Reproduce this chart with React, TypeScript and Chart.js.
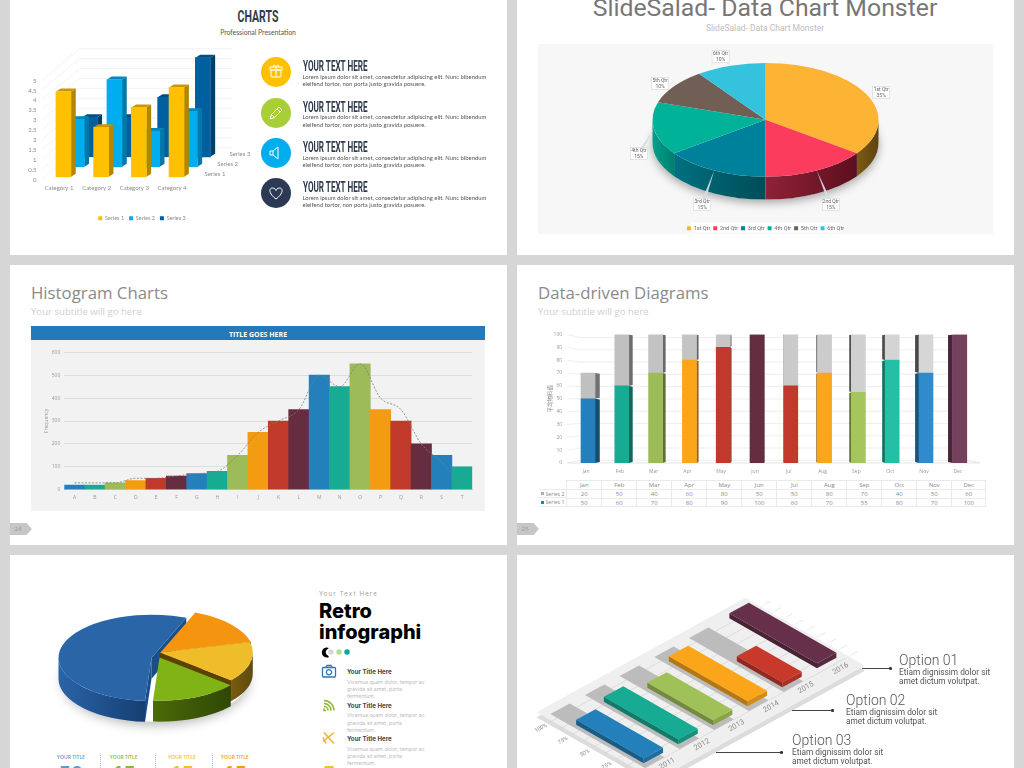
import React, { useEffect, useRef } from "react";
import { Chart, registerables } from "chart.js";

Chart.register(...registerables);

/* ---------- data ---------- */
const barCategories = ["Category 1", "Category 2", "Category 3", "Category 4"];
const barSeries1 = [4.3, 2.5, 3.5, 4.5];
const barSeries2 = [2.4, 4.4, 1.8, 2.8];
const barSeries3 = [2, 2, 3, 5];

const qtrLabels = ["1st Qtr", "2nd Qtr", "3rd Qtr", "4th Qtr", "5th Qtr", "6th Qtr"];
const qtrValues = [35, 15, 15, 15, 10, 10];

const histLabels = ["A", "B", "C", "D", "E", "F", "G", "H", "I", "J", "K", "L", "M", "N", "O", "P", "Q", "R", "S", "T"];
const histValues = [20, 20, 30, 40, 50, 60, 70, 80, 150, 250, 300, 350, 500, 450, 550, 350, 300, 200, 150, 100];
const histCurve = [30, 30, 30, 50, 50, 60, 70, 80, 150, 250, 300, 350, 500, 450, 550, 400, 350, 200, 120, 10];

const months = ["Jan", "Feb", "Mar", "Apr", "May", "Jun", "Jul", "Aug", "Sep", "Oct", "Nov", "Dec"];
const monthSeries1 = [50, 60, 70, 80, 90, 100, 60, 70, 55, 80, 70, 100];
const monthSeries2 = [20, 50, 40, 60, 80, 50, 50, 80, 70, 40, 50, 60];

const retroLabels = ["Blue", "Orange", "Yellow", "Green"];
const retroValues = [55, 15, 15, 15];
const retroStats = ["50", "15", "15", "15"];

const isoYears = ["2011", "2012", "2013", "2014", "2015", "2016"];
const isoValues = [77, 85, 75, 90, 52, 100];
const isoTrack = [108, 108, 108, 108, 108, 0];
const isoGridValues = [0, 12.5, 25, 37.5, 50, 62.5, 75, 87.5, 100];
const isoValueLabels = [25, 50, 75, 100];

/* ---------- palette ---------- */
const BLUE = "#2380ba", TEAL = "#17ab93", GREEN = "#9dbb58", ORANGE = "#f39c12", RED = "#c0392b", PURPLE = "#662d40";
const histPalette = [BLUE, TEAL, GREEN, ORANGE, RED, PURPLE];
const monthColors = [BLUE, TEAL, GREEN, "#fba51b", RED, PURPLE, RED, "#fba51b", "#a5c65c", "#25bfa6", "#2f8bcb", "#74405c"];
const monthGrays = ["#c0c0c0", "#c0c0c0", "#c2c2c2", "#c4c4c4", "#c6c6c6", "#c8c8c8", "#cacaca", "#cccccc", "#d0d0d0", "#d4d4d4", "#d6d6d6", "#d8d8d8"];
const isoColors = ["#2380ba", "#17ab93", "#a0c157", "#fba51b", "#c8392c", "#66304a"];

function shade(hex: string, f: number) {
  const n = parseInt(hex.slice(1), 16);
  const r = Math.round(((n >> 16) & 255) * f), g = Math.round(((n >> 8) & 255) * f), b = Math.round((n & 255) * f);
  return `rgb(${r},${g},${b})`;
}

/* ---------- scale helpers: fixed axis boxes so the plot area is exact ---------- */
const fixY = (w: number) => (s: any) => { s.width = w; s.paddingTop = 0; s.paddingBottom = 0; };
const fixX = (h: number) => (s: any) => { s.height = h; s.paddingLeft = 0; s.paddingRight = 0; };

/* ---------- plugin: 3D column chart with series receding in depth ---------- */
const seriesDepth = [[0, 0], [13.3, -10], [26.3, -20]];
const depthColors = [
  { side: "#b28600", top: "#c99700" },
  { side: "#0079a8", top: "#0088bd" },
  { side: "#003f69", top: "#004d80" },
];
const columns3D = {
  id: "columns3D",
  beforeDatasetsDraw(chart: any) {
    const { ctx, chartArea: a, scales } = chart;
    ctx.save();
    ctx.strokeStyle = "#ececec";
    ctx.lineWidth = 0.7;
    scales.y.ticks.forEach((t: any) => {
      const y = scales.y.getPixelForValue(t.value);
      ctx.beginPath();
      ctx.moveTo(a.left - 2, y + 2);
      ctx.lineTo(a.left + 35, y - 29);
      ctx.lineTo(a.right + 36, y - 29);
      ctx.stroke();
    });
    ctx.fillStyle = "#8c8c8c";
    ctx.font = "6px Lato";
    ctx.textAlign = "center";
    ctx.textBaseline = "middle";
    chart.data.datasets.forEach((d: any, i: number) => {
      ctx.fillText(d.label, a.right + 19.6 + seriesDepth[i][0] * 0.95, a.bottom - 2.3 + seriesDepth[i][1]);
    });
    ctx.restore();
  },
  beforeDatasetDraw(chart: any, args: any) {
    const { ctx } = chart;
    const [ox, oy] = seriesDepth[args.index];
    const dx = 4.8, dy = -3;
    ctx.save();
    ctx.translate(ox, oy);
    args.meta.data.forEach((el: any) => {
      const l = el.x - el.width / 2, r = el.x + el.width / 2;
      ctx.fillStyle = depthColors[args.index].side;
      ctx.beginPath();
      ctx.moveTo(r, el.y); ctx.lineTo(r + dx, el.y + dy); ctx.lineTo(r + dx, el.base + dy); ctx.lineTo(r, el.base);
      ctx.closePath(); ctx.fill();
      ctx.fillStyle = depthColors[args.index].top;
      ctx.beginPath();
      ctx.moveTo(l, el.y); ctx.lineTo(l + dx, el.y + dy); ctx.lineTo(r + dx, el.y + dy); ctx.lineTo(r, el.y);
      ctx.closePath(); ctx.fill();
    });
  },
  afterDatasetDraw(chart: any) { chart.ctx.restore(); },
};

/* ---------- plugin factory: squashed 3D pie, drawn slice by slice ---------- */
function makePie3D(cfg: any) {
  const { squash: k, depth, shifts, walls, radialWall, shadow } = cfg;
  return {
    id: "pie3D",
    beforeDatasetsDraw(chart: any) {
      const { ctx } = chart;
      const arcs = chart.getDatasetMeta(0).data;
      const r0 = arcs[0].outerRadius;
      ctx.save();
      ctx.shadowColor = shadow.color;
      ctx.shadowBlur = shadow.blur;
      ctx.shadowOffsetY = shadow.dy;
      ctx.fillStyle = "#fff";
      ctx.beginPath();
      const s0 = shifts[0], s2 = shifts[shifts.length - 1];
      ctx.ellipse(arcs[0].x + (s0[0] + s2[0]) / 2, arcs[0].y + (s0[1] + s2[1]) / 2 + depth, r0, r0 * k, 0, 0, Math.PI * 2);
      ctx.fill();
      ctx.restore();
      arcs.forEach((arc: any, i: number) => {
        const cx = arc.x + shifts[i][0], cy = arc.y + shifts[i][1], r = arc.outerRadius;
        const pt = (ang: number, rr = r) => [cx + rr * Math.cos(ang), cy + rr * k * Math.sin(ang)];
        const s = arc.startAngle, e = arc.endAngle;
        if (radialWall) {
          [[s, true], [e, false]].forEach(([ang, isStart]: any) => {
            const facing = isStart ? -Math.cos(ang) : Math.cos(ang);
            if (facing <= 0) return;
            const p = pt(ang);
            ctx.fillStyle = radialWall[i];
            ctx.beginPath();
            ctx.moveTo(cx, cy); ctx.lineTo(p[0], p[1]); ctx.lineTo(p[0], p[1] + depth); ctx.lineTo(cx, cy + depth);
            ctx.closePath(); ctx.fill();
          });
        }
        for (const base of [-2 * Math.PI, 0, 2 * Math.PI]) {
          const a0 = Math.max(s, base), a1 = Math.min(e, base + Math.PI);
          if (a1 <= a0) continue;
          const p0 = pt(a0), p1 = pt(a1);
          const g = ctx.createLinearGradient(Math.min(p0[0], p1[0]), 0, Math.max(p0[0], p1[0]), 0);
          const c = walls[i];
          const reversed = p1[0] > p0[0];
          g.addColorStop(0, reversed ? c[1] : c[0]);
          g.addColorStop(1, reversed ? c[0] : c[1]);
          ctx.fillStyle = g;
          ctx.beginPath();
          ctx.ellipse(cx, cy, r, r * k, 0, a0, a1);
          ctx.ellipse(cx, cy + depth, r, r * k, 0, a1, a0, true);
          ctx.closePath();
          ctx.fill();
        }
        ctx.save();
        ctx.translate(cx, cy);
        ctx.scale(1, k);
        ctx.translate(-arc.x, -arc.y);
        arc.draw(ctx);
        ctx.restore();
      });
      return false;
    },
  };
}

/* ---------- plugin: callout boxes on the Qtr pie ---------- */
const calloutOffsets = [[15, -1.6], [14, 34], [-12, 34], [-15, 25], [-14, -3], [-10, -9]];
const QTR_SQUASH = 0.503, QTR_DEPTH = 23, QTR_SHIFT = -13.5;
const qtrCallouts = {
  id: "qtrCallouts",
  afterDraw(chart: any) {
    const { ctx } = chart;
    const vals = chart.data.datasets[0].data;
    chart.getDatasetMeta(0).data.forEach((arc: any, i: number) => {
      const mid = (arc.startAngle + arc.endAngle) / 2;
      const ex = arc.x + arc.outerRadius * Math.cos(mid);
      const ey = arc.y + QTR_SHIFT + arc.outerRadius * QTR_SQUASH * Math.sin(mid);
      const lx = ex + calloutOffsets[i][0], ly = ey + calloutOffsets[i][1];
      ctx.save();
      ctx.fillStyle = "rgba(214,218,222,0.95)";
      ctx.beginPath();
      ctx.moveTo(ex, ey); ctx.lineTo(lx - 2, ly); ctx.lineTo(lx + 2, ly);
      ctx.closePath(); ctx.fill();
      ctx.fillStyle = "#fff";
      ctx.strokeStyle = "#d4d4d4";
      ctx.lineWidth = 0.6;
      ctx.fillRect(lx - 8.5, ly - 6, 17, 12);
      ctx.strokeRect(lx - 8.5, ly - 6, 17, 12);
      ctx.fillStyle = "#666";
      ctx.font = "5px Roboto";
      ctx.textAlign = "center";
      ctx.textBaseline = "middle";
      ctx.fillText(chart.data.labels[i], lx, ly - 2.6);
      ctx.fillText(vals[i] + "%", lx, ly + 3);
      ctx.restore();
    });
  },
  beforeDraw(chart: any) {
    const l = chart.legend;
    if (!l) return;
    chart.ctx.save();
    chart.ctx.fillStyle = "#fff";
    const w = 150;
    chart.ctx.fillRect(chart.width / 2 - w / 2, l.top, w, 10);
    chart.ctx.restore();
  },
};

/* ---------- plugin: stacked columns with perspective side faces ---------- */
const monthly3D = {
  id: "monthly3D",
  beforeDatasetsDraw(chart: any) {
    const { ctx, chartArea: a, scales } = chart;
    const y0 = scales.y.getPixelForValue(0), y100 = scales.y.getPixelForValue(100);
    const x0 = a.left - 4, x1 = a.left + 9, x2 = a.right - 10;
    ctx.save();
    ctx.strokeStyle = "#e6e6e6";
    ctx.lineWidth = 0.7;
    scales.y.ticks.forEach((t: any) => {
      const y = scales.y.getPixelForValue(t.value);
      const skew = 3 - 5.7 * ((y - y100) / (y0 - y100));
      ctx.beginPath();
      ctx.moveTo(x0, y); ctx.lineTo(x1, y + skew); ctx.lineTo(x2, y + skew);
      ctx.stroke();
    });
    ctx.strokeStyle = "#d8d8d8";
    ctx.beginPath();
    ctx.moveTo(x0, y0); ctx.lineTo(a.right + 3, y0); ctx.lineTo(x2, y0 - 3);
    ctx.stroke();
    ctx.beginPath();
    ctx.rect(a.left - 6, a.top, a.right - a.left + 12, a.bottom - a.top);
    ctx.clip();
    chart.data.datasets.forEach((d: any, di: number) => {
      chart.getDatasetMeta(di).data.forEach((el: any, i: number) => {
        const t = Math.max(el.y, a.top), b = Math.min(el.base, a.bottom);
        if (t >= b) return;
        const f = (el.x - a.left) / (a.right - a.left);
        const dx = 5.2 - 10.4 * f;
        const edge = dx > 0 ? el.x + el.width / 2 : el.x - el.width / 2;
        ctx.fillStyle = shade(d.backgroundColor[i], di === 0 ? 0.6 : 0.3 + 0.3 * (1 - f));
        ctx.beginPath();
        ctx.moveTo(edge, t); ctx.lineTo(edge + dx, t + 0.8); ctx.lineTo(edge + dx, b - 1); ctx.lineTo(edge, b);
        ctx.closePath(); ctx.fill();
      });
    });
    ctx.restore();
  },
};

/* ---------- plugin: isometric projection of a horizontal bar chart ---------- */
const ISO_V = [94.7, 54], ISO_C = [-208, 114], ISO_P = [233.7, 49.2], ISO_LIFT = [-1.3, -9.7], ISO_THICK = 5;
function isoMatrix(chart: any) {
  const a = chart.chartArea;
  const W = a.right - a.left, H = a.bottom - a.top;
  const m: any = { a: ISO_V[0] / W, b: ISO_V[1] / W, c: ISO_C[0] / H, d: ISO_C[1] / H };
  m.e = ISO_P[0] - m.a * a.left - m.c * a.top;
  m.f = ISO_P[1] - m.b * a.left - m.d * a.top;
  return m;
}
const isoProject = (m: any, x: number, y: number) => [m.a * x + m.c * y + m.e, m.b * x + m.d * y + m.f];
const isoPlane = {
  id: "isoPlane",
  beforeDraw(chart: any) {
    const { ctx, chartArea: a } = chart;
    const m = isoMatrix(chart);
    const u = (a.right - a.left) / 108, band = (a.bottom - a.top) / isoYears.length;
    const sx = a.left - 9.5 * u, sw = a.right + 18.7 * u - sx, sy = a.top - 0.09 * band, sh = 6.03 * band;
    ctx.save();
    ctx.setTransform(1, 0, 0, 1, 0, 5);
    ctx.transform(m.a, m.b, m.c, m.d, m.e, m.f);
    ctx.fillStyle = "#dcdcdc";
    ctx.fillRect(sx, sy, sw, sh);
    ctx.setTransform(m.a, m.b, m.c, m.d, m.e, m.f);
    ctx.fillStyle = "#efefef";
    ctx.fillRect(sx, sy, sw, sh);
  },
  beforeDatasetsDraw(chart: any) {
    const { ctx, chartArea: a, scales } = chart;
    const band = (a.bottom - a.top) / isoYears.length;
    ctx.strokeStyle = "#a8a8a8";
    ctx.lineWidth = 1;
    isoGridValues.forEach((v) => {
      const x = scales.x.getPixelForValue(v);
      ctx.beginPath();
      ctx.moveTo(x, a.top - 0.09 * band);
      ctx.lineTo(x, a.top - 0.36 * band);
      ctx.stroke();
    });
  },
  beforeDatasetDraw(chart: any, args: any) {
    const { ctx } = chart;
    const m = isoMatrix(chart);
    ctx.save();
    if (args.index !== 1) return;
    ctx.setTransform(1, 0, 0, 1, ISO_LIFT[0], ISO_LIFT[1]);
    args.meta.data.forEach((el: any, i: number) => {
      const h = el.height / 2;
      const A = isoProject(m, el.x, el.y + h), B = isoProject(m, el.base, el.y + h), C = isoProject(m, el.base, el.y - h);
      ctx.fillStyle = shade(isoColors[i], 0.72);
      ctx.beginPath();
      ctx.moveTo(A[0], A[1]); ctx.lineTo(B[0], B[1]); ctx.lineTo(B[0], B[1] + ISO_THICK); ctx.lineTo(A[0], A[1] + ISO_THICK);
      ctx.closePath(); ctx.fill();
      ctx.fillStyle = shade(isoColors[i], 0.85);
      ctx.beginPath();
      ctx.moveTo(B[0], B[1]); ctx.lineTo(C[0], C[1]); ctx.lineTo(C[0], C[1] + ISO_THICK); ctx.lineTo(B[0], B[1] + ISO_THICK);
      ctx.closePath(); ctx.fill();
    });
    ctx.transform(m.a, m.b, m.c, m.d, m.e, m.f);
  },
  afterDatasetDraw(chart: any) { chart.ctx.restore(); },
  afterDraw(chart: any) {
    const { ctx, scales, chartArea: a } = chart;
    const m = isoMatrix(chart);
    ctx.restore();
    const drawRot = (txt: string, p: number[], size: number) => {
      ctx.save();
      ctx.translate(p[0], p[1]);
      ctx.rotate(-Math.PI / 6);
      ctx.font = `${size}px Roboto`;
      ctx.fillStyle = "#8a8a8a";
      ctx.textAlign = "center";
      ctx.textBaseline = "middle";
      ctx.fillText(txt, 0, 0);
      ctx.restore();
    };
    isoYears.forEach((label, i) => {
      const p = isoProject(m, scales.x.getPixelForValue(0), scales.y.getPixelForValue(i));
      drawRot(label, [p[0] + 12.5, p[1] + 1], 7.5);
    });
    isoValueLabels.forEach((v) => {
      const p = isoProject(m, scales.x.getPixelForValue(v), a.bottom - (a.bottom - a.top) / 12);
      drawRot(v + "%", [p[0] - 26, p[1] + 15.3], 5.5);
    });
  },
};

/* ---------- chart configs ---------- */
const gray = "#8c8c8c";
const base = { responsive: false, maintainAspectRatio: false, animation: false as const, events: [] as any[] };

const barConfig = () => ({
  type: "bar",
  data: {
    labels: barCategories,
    datasets: [
      { label: "Series 1", data: barSeries1, backgroundColor: "#ffc000", order: 1 },
      { label: "Series 2", data: barSeries2, backgroundColor: "#00adef", order: 2 },
      { label: "Series 3", data: barSeries3, backgroundColor: "#005f9e", order: 3 },
    ],
  },
  plugins: [columns3D],
  options: {
    ...base,
    layout: { padding: { left: 0, right: 0, top: 37.7, bottom: 0 } },
    datasets: { bar: { barThickness: 15, grouped: false, clip: false } },
    plugins: {
      legend: { position: "bottom", labels: { boxWidth: 4, boxHeight: 4, padding: 5, color: gray, font: { size: 5.5, family: "Lato" } } },
      tooltip: { enabled: false },
    },
    scales: {
      x: {
        afterFit: fixX(33.7),
        grid: { display: false, drawTicks: false }, border: { display: false },
        ticks: { font: { size: 6, family: "Lato" }, color: gray, padding: 8, labelOffset: -4.5, maxRotation: 0 },
      },
      y: {
        min: 0, max: 5, afterFit: fixY(24.6),
        grid: { display: false, drawTicks: false }, border: { display: false },
        ticks: { stepSize: 0.5, autoSkip: false, font: { size: 6, family: "Lato" }, color: gray, padding: 8, labelOffset: 3, callback: (v: any) => String(v) },
      },
      yRoom: {
        position: "right", afterFit: fixY(68.6),
        grid: { display: false, drawTicks: false }, border: { display: false },
        ticks: { display: false },
      },
    },
  },
});

const qtrConfig = () => ({
  type: "pie",
  data: {
    labels: qtrLabels,
    datasets: [{ data: qtrValues, backgroundColor: ["#fdb333", "#fc3c5d", "#00819b", "#00b398", "#715f55", "#35c2dd"], borderWidth: 0, radius: 113 }],
  },
  plugins: [
    makePie3D({
      squash: QTR_SQUASH, depth: QTR_DEPTH,
      shifts: qtrValues.map(() => [0, QTR_SHIFT]),
      walls: [["#7a5a14", "#5e4410"], ["#8f2236", "#5c0f1e"], ["#007080", "#004d58"], ["#00a08a", "#007f70"], ["#555", "#555"], ["#333", "#333"]],
      shadow: { color: "rgba(0,0,0,0.35)", blur: 10, dy: 3 },
    }),
    qtrCallouts,
  ],
  options: {
    ...base,
    plugins: {
      legend: { position: "bottom", labels: { boxWidth: 4, boxHeight: 4, padding: 3, color: "#666", font: { size: 5.5, family: "Roboto" } } },
      tooltip: { enabled: false },
    },
  },
});

const histConfig = () => ({
  type: "bar",
  data: {
    labels: histLabels,
    datasets: [
      { type: "line", label: "Curve", data: histCurve, borderColor: "#7d7d7d", borderWidth: 0.8, borderDash: [2, 1.5], pointRadius: 0, tension: 0.4, cubicInterpolationMode: "monotone", fill: false, order: 0 },
      { label: "Frequency", data: histValues, backgroundColor: histLabels.map((_, i) => histPalette[i % 6]), barPercentage: 1, categoryPercentage: 1, order: 1 },
    ],
  },
  options: {
    ...base,
    layout: { padding: { left: 13, right: 12.7, top: 12.3, bottom: 0 } },
    plugins: { legend: { display: false }, tooltip: { enabled: false } },
    scales: {
      x: {
        afterFit: fixX(21.3),
        grid: { display: false, drawTicks: false }, border: { color: "#cfcfcf" },
        ticks: { font: { size: 5, family: "Open Sans" }, color: "#999", padding: 5, maxRotation: 0 },
      },
      y: {
        min: 0, max: 600, afterFit: fixY(20.3),
        title: { display: true, text: "Frequency", font: { size: 5, family: "Open Sans" }, color: "#999", padding: 0 },
        grid: { color: "#dedede", drawTicks: false }, border: { display: false },
        ticks: { stepSize: 100, font: { size: 5, family: "Open Sans" }, color: "#999", padding: 4 },
      },
    },
  },
});

const monthConfig = () => ({
  type: "bar",
  data: {
    labels: months,
    datasets: [
      { label: "Series 1", data: monthSeries1, backgroundColor: monthColors },
      { label: "Series 2", data: monthSeries2, backgroundColor: monthGrays },
    ],
  },
  plugins: [monthly3D],
  options: {
    ...base,
    layout: { padding: { left: 8, right: 32.3, top: 9.5, bottom: 0 } },
    datasets: { bar: { barThickness: 14 } },
    plugins: { legend: { display: false }, tooltip: { enabled: false } },
    scales: {
      x: {
        stacked: true, afterFit: fixX(17),
        grid: { display: false, drawTicks: false }, border: { display: false },
        ticks: { font: { size: 5, family: "Open Sans" }, color: "#999", padding: 6, labelOffset: -2, maxRotation: 0 },
      },
      y: {
        stacked: true, min: 0, max: 100, afterFit: fixY(24.1),
        title: { display: true, text: "平均物料值", font: { size: 5.5, family: "Noto Sans CJK SC" }, color: "#888", padding: 0 },
        grid: { display: false, drawTicks: false }, border: { display: false },
        ticks: { stepSize: 10, autoSkip: false, font: { size: 5, family: "Open Sans" }, color: "#999", padding: 9 },
      },
    },
  },
});

const retroConfig = () => ({
  type: "pie",
  data: {
    labels: retroLabels,
    datasets: [{ data: retroValues, backgroundColor: ["#2a65a8", "#f5950f", "#efbd2a", "#80b315"], borderWidth: 0, radius: 93, rotation: 184 }],
  },
  plugins: [
    makePie3D({
      squash: 0.464, depth: 21,
      shifts: [[-5, 4.3], [4, -1], [3.3, -1], [3, 4]],
      walls: [["#2a64a8", "#143f72"], ["#5c3a00", "#5c3a00"], ["#7a5a10", "#5f4a10"], ["#4c6a08", "#2f4705"]],
      radialWall: ["#1a4e8a", "#5a3700", "#5c4200", "#3a5505"],
      shadow: { color: "rgba(0,0,0,0.3)", blur: 12, dy: 3 },
    }),
  ],
  options: { ...base, plugins: { legend: { display: false }, tooltip: { enabled: false } } },
});

const isoConfig = () => ({
  type: "bar",
  data: {
    labels: isoYears,
    datasets: [
      { label: "Track", data: isoTrack, backgroundColor: "#bcbcbc", order: 2, clip: false },
      { label: "Value", data: isoValues, backgroundColor: isoColors, order: 1, clip: false },
    ],
  },
  plugins: [isoPlane],
  options: {
    ...base,
    indexAxis: "y",
    datasets: { bar: { barPercentage: 0.56, categoryPercentage: 1, grouped: false } },
    plugins: { legend: { display: false }, tooltip: { enabled: false } },
    scales: {
      x: {
        min: 0, max: 108, reverse: true,
        afterBuildTicks: (s: any) => { s.ticks = isoGridValues.map((value) => ({ value })); },
        ticks: { display: false }, border: { display: false },
        grid: { color: "#cfcfcf", drawTicks: false, lineWidth: 0.8 },
      },
      y: { reverse: true, display: false },
    },
  },
});

/* ---------- html helpers ---------- */
function ChartBox({ x, y, w, h, make, bg }: any) {
  const ref = useRef<HTMLCanvasElement>(null);
  useEffect(() => {
    const c = new Chart(ref.current as any, make());
    return () => c.destroy();
  }, []);
  return <canvas ref={ref} width={w} height={h} style={{ position: "absolute", left: x, top: y, width: w, height: h, background: bg, display: "block" }} />;
}

function T({ x, y, size, color = "#555", weight = 400, font = "Open Sans", center, sx = 1, ls, children }: any) {
  return (
    <div style={{
      position: "absolute", left: x, top: y, fontSize: size, color, fontWeight: weight, fontFamily: font, whiteSpace: "nowrap", lineHeight: 1,
      letterSpacing: ls, transformOrigin: center ? "center" : "left center",
      transform: `translate(${center ? "-50%" : "0"},-50%) scaleX(${sx})`,
    }}>{children}</div>
  );
}

const Panel = ({ x, y, w, h, children }: any) => (
  <div style={{ position: "absolute", left: x, top: y, width: w, height: h, background: "#fff", overflow: "hidden" }}>{children}</div>
);

const PageChip = ({ x, y, n }: any) => (
  <>
    <div style={{ position: "absolute", left: x, top: y, width: 22, height: 12, background: "#c6c6c6", clipPath: "polygon(0 0,75% 0,100% 50%,75% 100%,0 100%)" }} />
    <T x={x + 8} y={y + 6} size={6} color="#999" center>{n}</T>
  </>
);

const icon = { fill: "none", stroke: "#fff", strokeWidth: 1, strokeLinejoin: "round" as const };
const bulletIcons = [
  <g {...icon}><rect x="-5" y="-2" width="10" height="7" rx="1" /><rect x="-6" y="-5" width="12" height="3" /><path d="M0-5V5M-3-5c0-3 3-2 3 0c0-2 3-3 3 0" /></g>,
  <g {...icon}><path d="M-6 6l1.5-4.5L3-6l3 3-7.5 7.5zM-4.5 1.5l3 3M1-4l3 3" /></g>,
  <g {...icon}><path d="M-6-2h3l5-4v12l-5-4h-3zM-3-2v4" /></g>,
  <g {...icon}><path d="M0 6C-8 0-7-5-3.5-5C-1.5-5 0-3.5 0-2.5C0-3.5 1.5-5 3.5-5C7-5 8 0 0 6z" /></g>,
];
const bulletColors = ["#ffc000", "#a9cf38", "#00adef", "#2c3a55"];
const bulletRows = [72, 112.7, 153, 193];

const retroRows = [672, 705.7, 739];
const retroIcons = [
  <g fill="none" stroke="#2f75b5" strokeWidth="1.3"><rect x="-6.5" y="-4" width="13" height="9.5" rx="1" /><circle cx="0" cy="0.7" r="2.6" /><path d="M-3-4l1-2h4l1 2" /></g>,
  <g fill="none" stroke="#8ab82a" strokeWidth="1.5"><path d="M-5-5a10 10 0 0 1 10 10M-5-2a7 7 0 0 1 7 7M-5 1a4 4 0 0 1 4 4" /><path d="M-5 3v2h2" /></g>,
  <g fill="none" stroke="#f0b428" strokeWidth="1.6"><path d="M-5-6L5 5M5-6L-6 3M-6-1l3 6" /></g>,
];

const statX = [71, 123.7, 182, 235];
const statColors = ["#5b9bd5", "#8bb733", "#f0c030", "#f4991a"];
const optionRows = [
  { x: 899, y: 660, label: "Option 01", lx: 862, lw: 28, ly: 668 },
  { x: 846, y: 700, label: "Option 02", lx: 792, lw: 40, ly: 710 },
  { x: 792, y: 740, label: "Option 03", lx: 716, lw: 65, ly: 752 },
];
const tableCols = 12;

/* ---------- page ---------- */
export default function App() {
  return (
    <div style={{ position: "absolute", left: 0, top: 0, width: 1024, height: 768, overflow: "hidden", background: "#d6d6d6" }}>
      <Panel x={10} y={0} w={497} h={255} />
      <Panel x={517} y={0} w={497} h={255} />
      <Panel x={10} y={265} w={497} h={280} />
      <Panel x={517} y={265} w={497} h={280} />
      <Panel x={10} y={555} w={497} h={213} />
      <Panel x={517} y={555} w={497} h={213} />

      {/* slide 1 */}
      <T x={258} y={16} size={17} color="#2f3b4c" weight={700} font="Roboto" center sx={0.62}>CHARTS</T>
      <T x={258} y={32} size={6.8} color="#555" font="Lato" center>Professional Presentation</T>
      <ChartBox x={20} y={40} w={244} h={191} make={barConfig} />
      {bulletRows.map((y, i) => (
        <React.Fragment key={y}>
          <svg style={{ position: "absolute", left: 261, top: y - 15, width: 30, height: 30 }} viewBox="-15 -15 30 30">
            <circle r="15" fill={bulletColors[i]} />
            {bulletIcons[i]}
          </svg>
          <T x={302.5} y={y - 6} size={14} color="#2f3b4c" weight={700} font="Roboto" sx={0.58}>YOUR TEXT HERE</T>
          <T x={302.5} y={y + 4.7} size={5.9} color="#555" font="Lato">Lorem ipsum dolor sit amet, consectetur adipiscing elit. Nunc bibendum</T>
          <T x={302.5} y={y + 12.3} size={5.9} color="#555" font="Lato">eleifend tortor, non porta justo gravida posuere.</T>
        </React.Fragment>
      ))}

      {/* slide 2 */}
      <T x={765} y={8} size={24.8} color="#777" font="Roboto" center>SlideSalad- Data Chart Monster</T>
      <T x={765} y={27.7} size={8.5} color="#bdbdbd" font="Roboto" center>SlideSalad- Data Chart Monster</T>
      <div style={{ position: "absolute", left: 538, top: 44, width: 455, height: 190, background: "#f7f7f7" }} />
      <ChartBox x={538} y={44} w={455} h={197} make={qtrConfig} />

      {/* slide 3 */}
      <T x={31} y={293} size={16.8} color="#8a8a8a">Histogram Charts</T>
      <T x={31} y={312} size={9.6} color="#cfcfcf">Your subtitle will go here</T>
      <div style={{ position: "absolute", left: 31, top: 326, width: 454, height: 14, background: "#2479b8" }} />
      <T x={258} y={333.5} size={7} color="#fff" weight={700} center>TITLE GOES HERE</T>
      <ChartBox x={31} y={340} w={454} h={171} make={histConfig} bg="#f2f2f2" />
      <PageChip x={10} y={523} n="24" />

      {/* slide 4 */}
      <T x={538} y={293} size={16.8} color="#8a8a8a">Data-driven Diagrams</T>
      <T x={538} y={312} size={9.6} color="#cfcfcf">Your subtitle will go here</T>
      <ChartBox x={539} y={325} w={470} h={155} make={monthConfig} />
      <div style={{ position: "absolute", left: 539, top: 480, width: 447, height: 27, fontFamily: "Open Sans", fontSize: 6, color: "#888", display: "grid", gridTemplateColumns: `27.3px repeat(${tableCols},35px)`, gridTemplateRows: "9px 9px 9px", boxSizing: "border-box" }}>
        {[
          { head: "", mark: "", row: months },
          { head: "Series 2", mark: "#b0b0b0", row: monthSeries2 },
          { head: "Series 1", mark: BLUE, row: monthSeries1 },
        ].map((r, ri) => (
          <React.Fragment key={ri}>
            <div style={{ fontSize: 5.2, borderBottom: ri ? "0.7px solid #eaeaea" : "none", borderTop: ri === 1 ? "0.7px solid #eaeaea" : "none", display: "flex", alignItems: "center", whiteSpace: "nowrap", overflow: "hidden" }}>
              {r.mark ? <span style={{ width: 3, height: 3, background: r.mark, margin: "0 1.5px 0 2px", display: "inline-block", flex: "none" }} /> : null}
              {r.head}
            </div>
            {r.row.map((v, ci) => (
              <div key={ci} style={{ borderLeft: "0.7px solid #eaeaea", borderRight: ci === tableCols - 1 ? "0.7px solid #eaeaea" : "none", borderTop: "0.7px solid #eaeaea", borderBottom: ri === 2 ? "0.7px solid #eaeaea" : "none", display: "flex", alignItems: "center", justifyContent: "center" }}>{v}</div>
            ))}
          </React.Fragment>
        ))}
      </div>
      <PageChip x={517} y={523} n="25" />

      {/* slide 5 */}
      <ChartBox x={10} y={555} w={293} h={197} make={retroConfig} />
      {statX.map((x, i) => (
        <React.Fragment key={x}>
          <T x={x} y={757} size={5} color={statColors[i]} weight={600} center>YOUR TITLE</T>
          <T x={x} y={773} size={21} color={statColors[i]} weight={700} center>{retroStats[i]}</T>
        </React.Fragment>
      ))}
      {[100, 155, 212].map((x) => (
        <div key={x} style={{ position: "absolute", left: x, top: 755, width: 0, height: 13, borderLeft: "0.8px dotted #9cc3e6" }} />
      ))}
      <T x={319} y={594} size={6} color="#a0a0a0" ls="1.2px" font="Inter">Your Text Here</T>
      <T x={319} y={611} size={20} color="#000" weight={800} font="Inter">Retro</T>
      <T x={319} y={632} size={20} color="#000" weight={800} font="Inter">infographi</T>
      <svg style={{ position: "absolute", left: 315, top: 644, width: 40, height: 16 }} viewBox="315 644 40 16">
        <path d="M329 648a5 5 0 1 0 0 9l-1-1.5a3.5 3.5 0 0 1-1-6z" fill="#000" />
        <circle cx="331" cy="652" r="2.7" fill="#d8d8d8" />
        <circle cx="339" cy="652" r="2.7" fill="#b8dc8f" />
        <circle cx="347" cy="652" r="2.7" fill="#00a99d" />
      </svg>
      {retroRows.map((y, i) => (
        <React.Fragment key={y}>
          <svg style={{ position: "absolute", left: 320, top: y - 8, width: 18, height: 18 }} viewBox="-9 -7.5 18 18">{retroIcons[i]}</svg>
          <T x={347} y={y} size={6.2} color="#444" weight={700} font="Inter">Your Title Here</T>
          <T x={347} y={y + 10.7} size={5.2} color="#bbb" font="Inter">Vivamus quam dolor, tempor ac</T>
          <T x={347} y={y + 18} size={5.2} color="#bbb" font="Inter">gravida sit amet, porta</T>
          <T x={347} y={y + 25.4} size={5.2} color="#bbb" font="Inter">fermentum.</T>
        </React.Fragment>
      ))}
      <div style={{ position: "absolute", left: 324, top: 766, width: 10, height: 2, background: "#f0c030", borderRadius: "5px 5px 0 0" }} />

      {/* slide 6 */}
      <ChartBox x={517} y={555} w={497} h={213} make={isoConfig} />
      {optionRows.map((o) => (
        <React.Fragment key={o.label}>
          <div style={{ position: "absolute", left: o.lx, top: o.ly, width: o.lw, height: 0, borderTop: "0.8px solid #444" }} />
          <div style={{ position: "absolute", left: o.lx + o.lw - 1, top: o.ly - 1, width: 2.5, height: 2.5, borderRadius: "50%", background: "#333" }} />
          <T x={o.x} y={o.y} size={14} color="#555" font="Roboto" weight={300}>{o.label}</T>
          <T x={o.x} y={o.y + 11.5} size={8.3} color="#555" font="Roboto">Etiam dignissim dolor sit</T>
          <T x={o.x} y={o.y + 20.5} size={8.3} color="#555" font="Roboto">amet dictum volutpat.</T>
        </React.Fragment>
      ))}
    </div>
  );
}
